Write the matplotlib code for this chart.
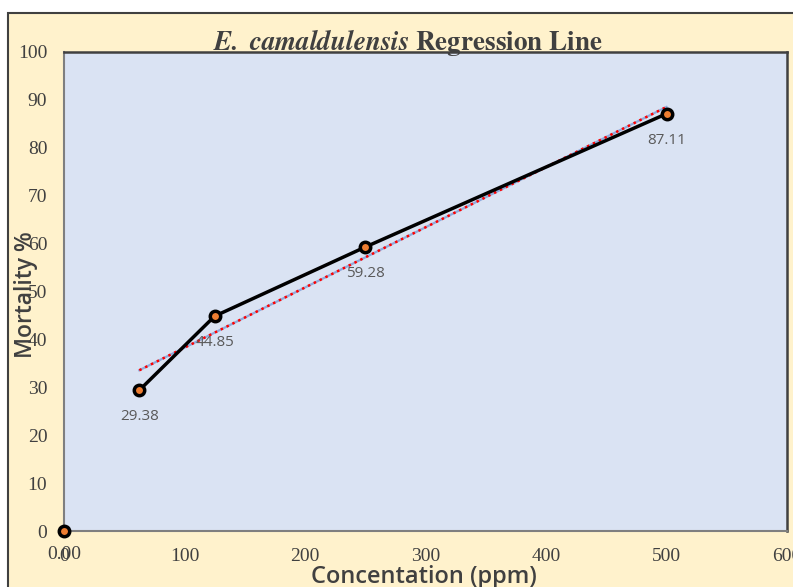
import numpy as np
import matplotlib
matplotlib.use("Agg")
import matplotlib.pyplot as plt
from matplotlib.patches import Rectangle

# Dados
concentration = [62.5, 125, 250, 500]
mortality = [29.38, 44.85, 59.28, 87.11]
origin_x = [0]
origin_y = [0]
x_ticks = [0, 100, 200, 300, 400, 500, 600]
y_ticks = [0, 10, 20, 30, 40, 50, 60, 70, 80, 90, 100]

plt.rcParams["mathtext.fontset"] = "stix"

W, H = 793, 587
fig = plt.figure(figsize=(W / 100, H / 100), dpi=100)
fig.patch.set_facecolor("white")

# Moldura externa creme
frame = Rectangle((8 / W, -0.05), 1.0, 1.05 - 13 / H, transform=fig.transFigure,
                  facecolor="#FFF2CC", edgecolor="#404040", linewidth=1.5,
                  clip_on=False, zorder=-10)
fig.patches.append(frame)

ax = fig.add_axes([64 / W, 1 - 531 / H, (787 - 64) / W, (531 - 52) / H])
ax.set_zorder(1)
ax.set_facecolor("#DAE3F3")
for side in ["left", "bottom"]:
    ax.spines[side].set_color("#7F7F7F")
    ax.spines[side].set_linewidth(1.5)
for side in ["top", "right"]:
    ax.spines[side].set_color("#404040")
    ax.spines[side].set_linewidth(1.8)

# Linha de regressão
slope, intercept = np.polyfit(concentration, mortality, 1)
xs = np.array([concentration[0], concentration[-1]])
ax.plot(xs, slope * xs + intercept, color="#8FAADC", linewidth=1.6, zorder=2)
ax.plot(xs, slope * xs + intercept, color="#FF0000", linewidth=1.8,
        linestyle=(0, (1, 1.6)), zorder=3)

# Série principal
ax.plot(concentration, mortality, color="black", linewidth=2.5, marker="o",
        markersize=7.5, markerfacecolor="#ED7D31", markeredgecolor="black",
        markeredgewidth=2.5, zorder=4)
ax.plot(origin_x, origin_y, linestyle="none", marker="o", markersize=7.5,
        markerfacecolor="#ED7D31", markeredgecolor="black",
        markeredgewidth=2.5, zorder=5, clip_on=False)

# Rótulos de dados
for x, y in zip(concentration, mortality):
    ax.annotate(f"{y:.2f}", (x, y), xytext=(0, -19), textcoords="offset points",
                ha="center", va="center", fontsize=11, color="#595959",
                family="Open Sans", zorder=6)

ax.set_xlim(0, 600)
ax.set_ylim(0, 100)
ax.set_xticks(x_ticks)
ax.set_yticks(y_ticks)
ax.tick_params(length=0, labelsize=14, labelcolor="#404040", pad=12)
for lab in ax.get_xticklabels() + ax.get_yticklabels():
    lab.set_family("Liberation Serif")
ax.text(0, -5, "0.00", ha="center", va="center", fontsize=14, color="#404040",
        family="Liberation Serif", transform=ax.transData, clip_on=False)

# Título
ax.text(0.475, 1.004, r"$\mathbfit{E.\ camaldulensis}\ \mathbf{Regression\ Line}$",
        transform=ax.transAxes, ha="center", va="baseline", fontsize=19.5,
        color="#404040")

fig.text(424 / W, 1 - 577 / H, "Concentation (ppm)", ha="center", va="center",
         fontsize=17, fontweight="semibold", color="#404040", family="Open Sans")
fig.text(26 / W, 1 - 295 / H, "Mortality %", ha="center", va="center",
         rotation=90, fontsize=16.5, fontweight="semibold", color="#404040",
         family="Open Sans")

fig.savefig("out.png", dpi=100)
plt.close(fig)
